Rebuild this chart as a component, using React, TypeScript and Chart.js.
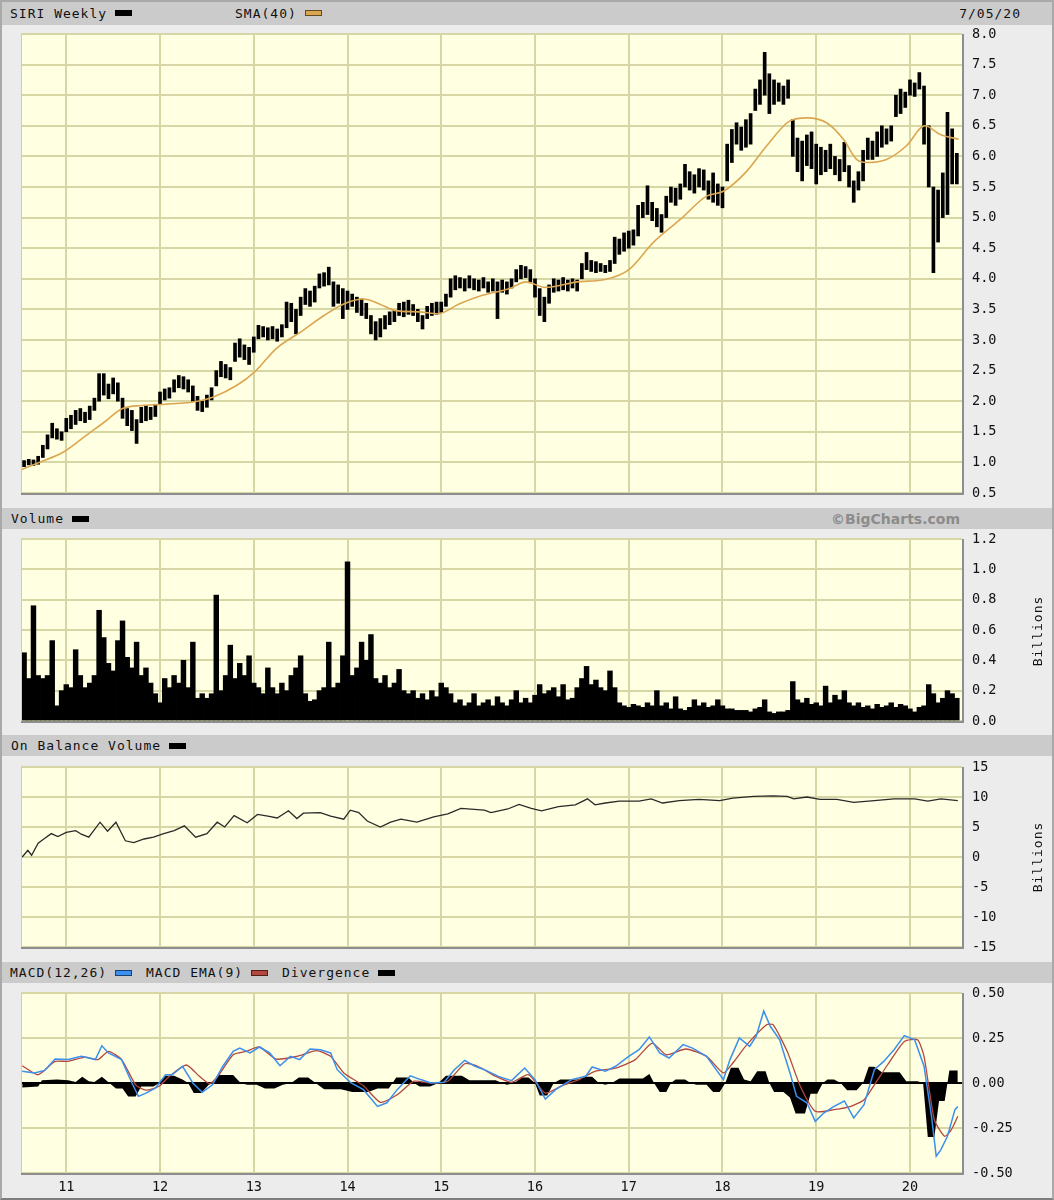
import React, { useEffect, useRef } from "react";
import { Chart, registerables } from "chart.js";
Chart.register(...registerables);

// ---------------- DATA ----------------
const yearTicks = [2011, 2012, 2013, 2014, 2015, 2016, 2017, 2018, 2019, 2020];
const yearLabels = ["11", "12", "13", "14", "15", "16", "17", "18", "19", "20"];

// weekly price bars sampled every 0.05 year starting at priceStart
const priceStart = 2010.55;
const priceStep = 0.05;
const priceLow = [
  0.93, 0.96, 0.95, 0.97, 1.08, 1.22, 1.40, 1.38, 1.36, 1.50,
  1.55, 1.62, 1.68, 1.65, 1.70, 1.85, 2.00, 2.10, 2.04, 2.12,
  2.00, 1.72, 1.60, 1.52, 1.31, 1.65, 1.68, 1.70, 1.75, 1.95,
  2.02, 2.05, 2.15, 2.22, 2.20, 2.15, 2.00, 1.85, 1.83, 1.90,
  2.02, 2.25, 2.40, 2.38, 2.35, 2.65, 2.72, 2.68, 2.60, 2.80,
  3.02, 3.05, 3.00, 3.02, 2.98, 3.05, 3.20, 3.30, 3.10, 3.40,
  3.58, 3.55, 3.62, 3.85, 3.88, 3.90, 3.55, 3.60, 3.35, 3.50,
  3.55, 3.45, 3.40, 3.35, 3.10, 3.00, 3.05, 3.18, 3.25, 3.30,
  3.40, 3.38, 3.42, 3.40, 3.30, 3.18, 3.35, 3.40, 3.42, 3.45,
  3.55, 3.70, 3.82, 3.85, 3.80, 3.85, 3.82, 3.80, 3.85, 3.78,
  3.80, 3.35, 3.78, 3.75, 3.85, 3.95, 4.00, 4.02, 3.95, 3.70,
  3.40, 3.30, 3.60, 3.78, 3.80, 3.82, 3.80, 3.85, 3.80, 4.00,
  4.15, 4.12, 4.10, 4.12, 4.10, 4.12, 4.25, 4.40, 4.45, 4.50,
  4.55, 4.70, 5.00, 5.05, 4.95, 4.85, 4.76, 5.00, 5.25, 5.20,
  5.30, 5.50, 5.45, 5.40, 5.50, 5.45, 5.30, 5.25, 5.20, 5.16,
  5.60, 5.90, 6.20, 6.10, 6.15, 6.20, 6.75, 6.85, 7.00, 6.70,
  6.85, 6.90, 6.85, 6.95, 6.00, 5.75, 5.60, 5.85, 5.80, 5.55,
  5.70, 5.75, 5.80, 5.70, 5.60, 5.75, 5.50, 5.25, 5.45, 5.60,
  5.95, 5.95, 6.00, 6.15, 6.20, 6.25, 6.65, 6.70, 6.80, 7.00,
  6.98, 7.10, 6.20, 5.50, 4.10, 4.60, 5.00, 5.05, 5.55, 5.55,
];
const priceHigh = [
  1.03, 1.05, 1.04, 1.10, 1.28, 1.45, 1.64, 1.55, 1.50, 1.72,
  1.77, 1.85, 1.88, 1.82, 1.92, 2.05, 2.45, 2.45, 2.28, 2.38,
  2.30, 2.05, 1.88, 1.85, 1.70, 1.90, 1.93, 1.90, 1.95, 2.15,
  2.20, 2.22, 2.35, 2.42, 2.40, 2.35, 2.25, 2.08, 2.00, 2.10,
  2.22, 2.50, 2.65, 2.60, 2.55, 2.95, 3.02, 2.92, 2.88, 3.05,
  3.24, 3.22, 3.20, 3.22, 3.18, 3.25, 3.62, 3.60, 3.50, 3.70,
  3.84, 3.80, 3.88, 4.08, 4.10, 4.19, 3.95, 3.90, 3.84, 3.80,
  3.75, 3.70, 3.67, 3.60, 3.40, 3.30, 3.35, 3.40, 3.46, 3.48,
  3.60, 3.62, 3.65, 3.58, 3.50, 3.40, 3.55, 3.60, 3.62, 3.62,
  3.75, 4.00, 4.05, 4.02, 4.00, 4.05, 4.00, 3.98, 4.02, 3.95,
  4.00, 3.95, 3.98, 3.95, 4.00, 4.15, 4.22, 4.20, 4.15, 4.00,
  3.84, 3.70, 3.90, 4.00, 3.98, 4.02, 3.98, 4.00, 3.98, 4.25,
  4.43, 4.30, 4.28, 4.25, 4.22, 4.30, 4.68, 4.65, 4.75, 4.78,
  4.80, 5.20, 5.25, 5.52, 5.25, 5.15, 5.05, 5.35, 5.50, 5.48,
  5.55, 5.87, 5.75, 5.70, 5.80, 5.78, 5.60, 5.73, 5.55, 5.50,
  6.20, 6.44, 6.55, 6.48, 6.60, 6.70, 7.10, 7.25, 7.70, 7.35,
  7.25, 7.20, 7.15, 7.25, 6.60, 6.30, 6.25, 6.35, 6.40, 6.20,
  6.15, 6.10, 6.20, 6.00, 5.95, 6.23, 5.85, 5.60, 5.75, 6.10,
  6.30, 6.25, 6.40, 6.50, 6.45, 6.50, 7.00, 7.10, 7.05, 7.25,
  7.20, 7.37, 7.15, 6.50, 5.50, 5.45, 5.73, 6.72, 6.45, 6.05,
];
// weekly volume (billions), same sampling as the price bars
const volume = [
  0.45, 0.28, 0.76, 0.30, 0.28, 0.30, 0.53, 0.10, 0.20, 0.24,
  0.22, 0.47, 0.30, 0.22, 0.25, 0.30, 0.73, 0.55, 0.38, 0.33,
  0.53, 0.66, 0.42, 0.35, 0.52, 0.30, 0.35, 0.25, 0.18, 0.12,
  0.28, 0.22, 0.30, 0.25, 0.40, 0.22, 0.52, 0.15, 0.18, 0.15,
  0.18, 0.83, 0.20, 0.30, 0.50, 0.28, 0.38, 0.30, 0.43, 0.25,
  0.22, 0.18, 0.35, 0.22, 0.18, 0.25, 0.20, 0.30, 0.35, 0.43,
  0.18, 0.13, 0.14, 0.20, 0.22, 0.52, 0.22, 0.25, 0.43, 1.05,
  0.30, 0.35, 0.52, 0.40, 0.57, 0.28, 0.25, 0.30, 0.22, 0.25,
  0.34, 0.20, 0.18, 0.20, 0.15, 0.18, 0.14, 0.20, 0.16, 0.25,
  0.22, 0.18, 0.12, 0.14, 0.10, 0.12, 0.18, 0.10, 0.12, 0.14,
  0.10, 0.16, 0.12, 0.10, 0.14, 0.20, 0.12, 0.15, 0.12, 0.17,
  0.24, 0.18, 0.20, 0.22, 0.16, 0.24, 0.14, 0.15, 0.22, 0.28,
  0.36, 0.24, 0.27, 0.22, 0.20, 0.33, 0.22, 0.12, 0.10, 0.09,
  0.11, 0.10, 0.09, 0.12, 0.10, 0.20, 0.10, 0.12, 0.08, 0.16,
  0.08, 0.07, 0.09, 0.14, 0.10, 0.12, 0.09, 0.10, 0.14, 0.10,
  0.08, 0.08, 0.07, 0.07, 0.07, 0.06, 0.08, 0.09, 0.14, 0.06,
  0.05, 0.06, 0.06, 0.07, 0.26, 0.14, 0.12, 0.15, 0.11, 0.12,
  0.10, 0.23, 0.12, 0.17, 0.14, 0.20, 0.12, 0.10, 0.12, 0.09,
  0.10, 0.08, 0.11, 0.09, 0.10, 0.12, 0.09, 0.11, 0.10, 0.08,
  0.06, 0.09, 0.10, 0.24, 0.18, 0.12, 0.15, 0.20, 0.18, 0.15,
];

// SMA(40)
const smaYears = [
  2010.52, 2010.71, 2010.97, 2011.22, 2011.39, 2011.6, 2011.81, 2012.06, 2012.4, 2012.57,
  2012.82, 2013.01, 2013.24, 2013.5, 2013.75, 2013.96, 2014.17, 2014.34, 2014.51, 2014.76,
  2014.97, 2015.19, 2015.44, 2015.73, 2015.9, 2016.11, 2016.45, 2016.75, 2017.01, 2017.26,
  2017.55, 2017.83, 2018.01, 2018.26, 2018.47, 2018.72, 2018.9, 2019.11, 2019.29, 2019.43,
  2019.54, 2019.75, 2019.96, 2020.16, 2020.32, 2020.52,
];
const smaValues = [
  0.88, 1.0, 1.17, 1.45, 1.64, 1.88, 1.93, 1.95, 2.0, 2.07,
  2.26, 2.48, 2.86, 3.13, 3.4, 3.59, 3.67, 3.59, 3.48, 3.46,
  3.43, 3.59, 3.73, 3.84, 3.95, 3.86, 3.95, 3.99, 4.16, 4.59,
  4.97, 5.35, 5.43, 5.76, 6.17, 6.58, 6.63, 6.55, 6.28, 5.95,
  5.9, 5.95, 6.17, 6.5, 6.36, 6.28,
];

// On Balance Volume (billions)
const obvYears = [
  2010.53, 2010.59, 2010.63, 2010.70, 2010.76, 2010.84, 2010.91, 2011.0, 2011.1, 2011.16,
  2011.24, 2011.36, 2011.44, 2011.53, 2011.63, 2011.72, 2011.83, 2011.93, 2012.04, 2012.15,
  2012.26, 2012.38, 2012.5, 2012.61, 2012.69, 2012.79, 2012.93, 2013.04, 2013.15, 2013.25,
  2013.37, 2013.46, 2013.53, 2013.71, 2013.82, 2013.96, 2014.03, 2014.12, 2014.21, 2014.35,
  2014.46, 2014.57, 2014.74, 2014.92, 2015.07, 2015.21, 2015.46, 2015.53, 2015.71, 2015.83,
  2015.96, 2016.07, 2016.25, 2016.43, 2016.56, 2016.64, 2016.75, 2016.9, 2017.11, 2017.24,
  2017.36, 2017.54, 2017.75, 2017.97, 2018.11, 2018.33, 2018.54, 2018.69, 2018.76, 2018.9,
  2019.04, 2019.22, 2019.4, 2019.62, 2019.83, 2020.05, 2020.19, 2020.33, 2020.51,
];
const obvValues = [
  0, 1.1, 0.3, 2.3, 3.0, 3.9, 3.4, 4.1, 4.4, 3.8,
  3.3, 5.8, 4.3, 5.8, 2.7, 2.4, 3.0, 3.3, 3.9, 4.4,
  5.2, 3.3, 3.9, 5.8, 5.0, 6.9, 5.7, 7.1, 6.8, 6.5,
  7.7, 6.4, 7.3, 7.4, 6.8, 6.3, 7.8, 7.4, 6.0, 5.0,
  5.8, 6.3, 5.8, 6.7, 7.2, 8.1, 7.8, 7.4, 8.0, 8.75,
  8.1, 7.7, 8.4, 8.7, 9.7, 8.7, 9.0, 9.3, 9.3, 9.7,
  9.0, 9.4, 9.6, 9.4, 9.8, 10.1, 10.2, 10.1, 9.7, 10.0,
  9.6, 9.6, 9.1, 9.4, 9.7, 9.7, 9.3, 9.7, 9.4,
];

// MACD(12,26)
const macdYears = [
  2010.53, 2010.66, 2010.77, 2010.88, 2011.02, 2011.16, 2011.31, 2011.38, 2011.45, 2011.59,
  2011.70, 2011.77, 2011.85, 2011.95, 2012.06, 2012.13, 2012.24, 2012.35, 2012.45, 2012.56,
  2012.67, 2012.78, 2012.85, 2012.96, 2013.06, 2013.17, 2013.28, 2013.39, 2013.49, 2013.60,
  2013.71, 2013.82, 2013.89, 2014.03, 2014.17, 2014.32, 2014.42, 2014.53, 2014.67, 2014.78,
  2014.89, 2015.03, 2015.14, 2015.25, 2015.36, 2015.46, 2015.61, 2015.75, 2015.89, 2016.00,
  2016.11, 2016.22, 2016.39, 2016.54, 2016.61, 2016.75, 2016.86, 2017.00, 2017.11, 2017.22,
  2017.33, 2017.43, 2017.58, 2017.68, 2017.83, 2018.01, 2018.08, 2018.18, 2018.29, 2018.36,
  2018.44, 2018.51, 2018.61, 2018.72, 2018.79, 2018.90, 2018.99, 2019.08, 2019.19, 2019.30,
  2019.40, 2019.51, 2019.62, 2019.72, 2019.83, 2019.94, 2020.05, 2020.15, 2020.23, 2020.28,
  2020.33, 2020.40, 2020.48, 2020.51,
];
const macdValues = [
  0.065, 0.055, 0.07, 0.133, 0.13, 0.148, 0.13, 0.207, 0.167, 0.13,
  0.0, -0.074, -0.056, -0.028, 0.046, 0.046, 0.093, 0.0, -0.052, -0.01,
  0.093, 0.176, 0.194, 0.167, 0.2, 0.167, 0.096, 0.148, 0.13, 0.189,
  0.185, 0.167, 0.074, 0.004, -0.037, -0.13, -0.11, -0.037, 0.04, 0.019,
  0.0, 0.004, 0.074, 0.126, 0.093, 0.074, 0.037, 0.013, 0.083, 0.019,
  -0.089, -0.037, 0.019, 0.037, 0.089, 0.065, 0.093, 0.148, 0.185, 0.256,
  0.167, 0.139, 0.213, 0.194, 0.148, 0.019, 0.13, 0.25, 0.204, 0.26,
  0.4, 0.315, 0.24, 0.056, -0.074, -0.11, -0.213, -0.167, -0.13, -0.1,
  -0.194, -0.12, 0.074, 0.12, 0.185, 0.263, 0.24, 0.093, -0.185, -0.407,
  -0.37, -0.296, -0.148, -0.13,
];

// MACD EMA(9)
const emaYears = [
  2010.53, 2010.70, 2010.88, 2011.02, 2011.20, 2011.34, 2011.45, 2011.59, 2011.74, 2011.85,
  2011.99, 2012.10, 2012.28, 2012.42, 2012.53, 2012.63, 2012.78, 2012.92, 2013.06, 2013.24,
  2013.46, 2013.67, 2013.82, 2013.96, 2014.17, 2014.35, 2014.53, 2014.71, 2014.89, 2015.07,
  2015.25, 2015.39, 2015.57, 2015.75, 2015.93, 2016.11, 2016.29, 2016.47, 2016.64, 2016.86,
  2017.07, 2017.25, 2017.40, 2017.61, 2017.83, 2018.01, 2018.11, 2018.26, 2018.47, 2018.54,
  2018.69, 2018.83, 2018.99, 2019.19, 2019.37, 2019.51, 2019.62, 2019.76, 2019.94, 2020.08,
  2020.15, 2020.26, 2020.37, 2020.44, 2020.51,
];
const emaValues = [
  0.096, 0.046, 0.12, 0.12, 0.144, 0.13, 0.176, 0.13, -0.01, -0.04,
  -0.018, 0.037, 0.1, 0.037, -0.004, 0.046, 0.157, 0.176, 0.2, 0.133,
  0.148, 0.18, 0.148, 0.056, -0.015, -0.107, -0.065, 0.01, 0.0, 0.01,
  0.107, 0.093, 0.04, 0.004, 0.046, -0.056, -0.015, 0.019, 0.065, 0.083,
  0.13, 0.222, 0.157, 0.189, 0.148, 0.056, 0.111, 0.213, 0.324, 0.324,
  0.176, -0.018, -0.157, -0.148, -0.13, -0.093, -0.01, 0.1, 0.231, 0.24,
  0.148, -0.204, -0.296, -0.26, -0.185,
];

// Divergence histogram
const divYears = [
  2010.53, 2010.7, 2010.74, 2010.9, 2011.02, 2011.1, 2011.17, 2011.24, 2011.3, 2011.38,
  2011.46, 2011.53, 2011.6, 2011.66, 2011.74, 2011.8, 2011.93, 2011.99, 2012.05, 2012.15,
  2012.24, 2012.3, 2012.36, 2012.44, 2012.52, 2012.57, 2012.62, 2012.78, 2012.86, 2012.93,
  2013.03, 2013.12, 2013.22, 2013.31, 2013.4, 2013.48, 2013.58, 2013.66, 2013.75, 2013.93,
  2014.05, 2014.22, 2014.32, 2014.44, 2014.48, 2014.52, 2014.65, 2014.71, 2014.77, 2014.88,
  2014.97, 2015.05, 2015.22, 2015.3, 2015.58, 2015.65, 2015.7, 2015.78, 2015.86, 2015.93,
  2016.0, 2016.05, 2016.13, 2016.2, 2016.27, 2016.45, 2016.54, 2016.61, 2016.68, 2016.75,
  2016.82, 2016.9, 2017.15, 2017.22, 2017.27, 2017.33, 2017.4, 2017.45, 2017.5, 2017.6,
  2017.66, 2017.72, 2017.83, 2017.9, 2017.97, 2018.03, 2018.09, 2018.17, 2018.23, 2018.3,
  2018.37, 2018.46, 2018.5, 2018.55, 2018.65, 2018.72, 2018.78, 2018.88, 2018.94, 2019.01,
  2019.07, 2019.12, 2019.19, 2019.26, 2019.33, 2019.43, 2019.5, 2019.56, 2019.62, 2019.7,
  2019.89, 2019.96, 2020.08, 2020.14, 2020.19, 2020.26, 2020.31, 2020.37, 2020.4, 2020.42,
  2020.51,
];
const divValues = [
  -0.025, -0.02, 0.015, 0.02, 0.015, 0.005, 0.035, 0.01, 0.005, 0.035,
  0.0, -0.03, -0.03, -0.075, -0.075, -0.02, -0.02, 0.0, 0.04, 0.04,
  0.02, 0.0, -0.055, -0.055, -0.01, 0.0, 0.045, 0.045, 0.0, -0.01,
  -0.01, -0.03, -0.03, -0.01, 0.0, 0.03, 0.03, 0.0, -0.035, -0.035,
  -0.05, -0.05, -0.03, -0.03, 0.0, 0.03, 0.03, 0.0, -0.02, -0.02,
  0.0, 0.04, 0.04, 0.015, 0.015, 0.0, -0.01, 0.0, 0.03, 0.03,
  0.0, -0.07, -0.07, 0.0, 0.02, 0.02, 0.035, 0.035, 0.0, -0.01,
  0.0, 0.025, 0.025, 0.05, 0.0, -0.05, -0.05, 0.0, 0.02, 0.02,
  0.0, -0.01, -0.01, -0.05, -0.05, 0.0, 0.085, 0.085, 0.02, 0.01,
  0.065, 0.065, 0.0, -0.05, -0.05, -0.08, -0.17, -0.17, -0.06, -0.06,
  0.0, 0.02, 0.02, 0.0, -0.04, -0.04, 0.0, 0.09, 0.09, 0.06,
  0.06, 0.01, 0.01, 0.0, -0.3, -0.3, -0.1, -0.1, 0.0, 0.07,
  0.07,
];

// ---------------- STYLE ----------------
const MONO = "'DejaVu Sans Mono', monospace";
const GRID = "#d7d7a6";
const PLOT_BG = "#ffffe1";
const PAGE_BG = "#ececec";
const HEAD_BG = "#cbcbcb";
const SMA_COLOR = "#dba651";
const MACD_COLOR = "#3a8fef";
const EMA_COLOR = "#b4473e";
const X_MIN = 2010.517;
const X_MAX = 2020.555;
const PLOT_LEFT = 21;
const AXIS_W = 1054 - 962;
const PAD = 20;

const framePlugin = {
  id: "frame",
  beforeDraw(chart: any) {
    const { ctx, chartArea: a } = chart;
    ctx.save();
    ctx.fillStyle = PLOT_BG;
    ctx.fillRect(a.left, a.top, a.right - a.left, a.bottom - a.top);
    ctx.restore();
  },
  afterDraw(chart: any) {
    const { ctx, chartArea: a } = chart;
    ctx.save();
    ctx.strokeStyle = "#d0d0a8";
    ctx.lineWidth = 1;
    ctx.beginPath();
    ctx.moveTo(a.left + 0.5, a.bottom);
    ctx.lineTo(a.left + 0.5, a.top);
    ctx.stroke();
    ctx.strokeStyle = "#8e8e8e";
    ctx.lineWidth = 2;
    ctx.beginPath();
    ctx.moveTo(a.left, a.bottom + 1);
    ctx.lineTo(a.right + 1, a.bottom + 1);
    ctx.lineTo(a.right + 1, a.top);
    ctx.stroke();
    ctx.restore();
  },
};

function makeOptions(o: {
  yMin: number;
  yMax: number;
  yStep: number;
  digits: number;
  bottomSpace: number;
  showX: boolean;
  zeroLine?: boolean;
}) {
  return {
    animation: false,
    responsive: false,
    maintainAspectRatio: false,
    devicePixelRatio: 1,
    events: [],
    layout: { padding: { left: PLOT_LEFT, top: PAD, right: 0, bottom: 0 } },
    plugins: { legend: { display: false }, tooltip: { enabled: false } },
    scales: {
      x: {
        type: "linear",
        min: X_MIN,
        max: X_MAX,
        bounds: "data",
        offset: false,
        afterBuildTicks: (s: any) => {
          s.ticks = yearTicks.map((v) => ({ value: v }));
        },
        afterFit: (s: any) => {
          s.height = o.bottomSpace;
        },
        grid: { color: GRID, lineWidth: 2, drawTicks: false, offset: false },
        border: { display: false },
        ticks: {
          display: o.showX,
          autoSkip: false,
          maxRotation: 0,
          padding: 6,
          color: "#111",
          font: { family: MONO, size: 13.5 },
          callback: (_v: any, i: number) => yearLabels[i],
        },
      },
      y: {
        position: "right",
        min: o.yMin,
        max: o.yMax,
        afterFit: (s: any) => {
          s.width = AXIS_W;
        },
        grid: {
          lineWidth: 2,
          drawTicks: false,
          color: (ctx: any) =>
            o.zeroLine && ctx.tick && Math.abs(ctx.tick.value) < 1e-9 ? "#000" : GRID,
        },
        border: { display: false },
        ticks: {
          stepSize: o.yStep,
          padding: 10,
          color: "#111",
          font: { family: MONO, size: 13.5 },
          callback: (v: any) => Number(v).toFixed(o.digits),
        },
      },
    },
  };
}

const priceConfig = () => ({
  type: "bar",
  data: {
    datasets: [
      {
        type: "line",
        data: smaYears.map((x, i) => ({ x, y: smaValues[i] })),
        borderColor: SMA_COLOR,
        borderWidth: 1.6,
        pointRadius: 0,
        cubicInterpolationMode: "monotone",
        order: 0,
      },
      {
        type: "bar",
        data: priceLow.map((lo, i) => ({ x: priceStart + i * priceStep, y: [lo, priceHigh[i]] })),
        backgroundColor: "#000",
        barThickness: 3,
        order: 1,
      },
    ],
  },
  options: makeOptions({ yMin: 0.5, yMax: 8, yStep: 0.5, digits: 1, bottomSpace: PAD, showX: false }),
  plugins: [framePlugin],
});

const volumeConfig = () => ({
  type: "bar",
  data: {
    datasets: [
      {
        data: volume.map((v, i) => ({ x: priceStart + i * priceStep, y: v })),
        backgroundColor: "#000",
        barThickness: 4.8,
      },
    ],
  },
  options: makeOptions({ yMin: 0, yMax: 1.2, yStep: 0.2, digits: 1, bottomSpace: PAD, showX: false }),
  plugins: [framePlugin],
});

const obvConfig = () => ({
  type: "line",
  data: {
    datasets: [
      {
        data: obvYears.map((x, i) => ({ x, y: obvValues[i] })),
        borderColor: "#2a2a2a",
        borderWidth: 1.3,
        pointRadius: 0,
        tension: 0,
      },
    ],
  },
  options: makeOptions({ yMin: -15, yMax: 15, yStep: 5, digits: 0, bottomSpace: PAD, showX: false }),
  plugins: [framePlugin],
});

const macdConfig = () => ({
  type: "line",
  data: {
    datasets: [
      {
        data: macdYears.map((x, i) => ({ x, y: macdValues[i] })),
        borderColor: MACD_COLOR,
        borderWidth: 1.5,
        pointRadius: 0,
        tension: 0,
        order: 0,
      },
      {
        data: emaYears.map((x, i) => ({ x, y: emaValues[i] })),
        borderColor: EMA_COLOR,
        borderWidth: 1.3,
        pointRadius: 0,
        tension: 0.2,
        order: 1,
      },
      {
        data: divYears.map((x, i) => ({ x, y: divValues[i] })),
        borderColor: "#000",
        borderWidth: 0,
        backgroundColor: "#000",
        fill: "origin",
        pointRadius: 0,
        tension: 0,
        order: 2,
      },
    ],
  },
  options: makeOptions({
    yMin: -0.5,
    yMax: 0.5,
    yStep: 0.25,
    digits: 2,
    bottomSpace: 28,
    showX: true,
    zeroLine: true,
  }),
  plugins: [framePlugin],
});

function ChartCanvas({ top, height, config }: { top: number; height: number; config: () => any }) {
  const ref = useRef<HTMLCanvasElement | null>(null);
  useEffect(() => {
    if (!ref.current) return;
    const chart = new Chart(ref.current, config());
    return () => chart.destroy();
  }, []);
  return (
    <canvas
      ref={ref}
      width={1054}
      height={height}
      style={{ position: "absolute", left: 0, top, width: 1054, height, display: "block" }}
    />
  );
}

const headText: React.CSSProperties = {
  position: "absolute",
  top: 0,
  height: "100%",
  display: "flex",
  alignItems: "center",
  font: `13px ${MONO}`,
  letterSpacing: "1px",
  color: "#111",
  whiteSpace: "pre",
};

function Item({ x, text, color }: { x: number; text: string; color?: string }) {
  return (
    <span style={{ ...headText, left: x }}>
      {text}
      {color ? (
        <span
          style={{
            display: "inline-block",
            width: 15,
            height: 4,
            marginLeft: 8,
            background: color,
            border: "1px solid rgba(0,0,0,0.55)",
          }}
        />
      ) : null}
    </span>
  );
}

function Header({ top, height, children }: { top: number; height: number; children: React.ReactNode }) {
  return (
    <div style={{ position: "absolute", left: 2, top, width: 1050, height, background: HEAD_BG }}>
      {children}
    </div>
  );
}

function Billions({ cy }: { cy: number }) {
  return (
    <div
      style={{
        position: "absolute",
        left: 1038 - 50,
        top: cy - 8,
        width: 100,
        height: 16,
        lineHeight: "16px",
        textAlign: "center",
        transform: "rotate(-90deg)",
        font: `13px ${MONO}`,
        letterSpacing: "1px",
        color: "#111",
      }}
    >
      Billions
    </div>
  );
}

export default function App() {
  return (
    <div
      style={{
        position: "absolute",
        left: 0,
        top: 0,
        width: 1054,
        height: 1200,
        background: PAGE_BG,
        overflow: "hidden",
      }}
    >
      <Header top={1} height={24}>
        <Item x={8} text="SIRI Weekly" color="#000" />
        <Item x={233} text="SMA(40)" color={SMA_COLOR} />
        <span style={{ ...headText, left: undefined, right: 31 }}>7/05/20</span>
      </Header>
      <Header top={508} height={21}>
        <Item x={9} text="Volume" color="#000" />
        <span
          style={{
            position: "absolute",
            right: 92,
            top: 0,
            height: "100%",
            display: "flex",
            alignItems: "center",
            font: `bold 14px 'DejaVu Sans', sans-serif`,
            color: "#8c8c8c",
          }}
        >
          ©BigCharts.com
        </span>
      </Header>
      <Header top={735} height={21}>
        <Item x={9} text="On Balance Volume" color="#000" />
      </Header>
      <Header top={962} height={21}>
        <Item x={8} text="MACD(12,26)" color={MACD_COLOR} />
        <Item x={144} text="MACD EMA(9)" color={EMA_COLOR} />
        <Item x={280} text="Divergence" color="#000" />
      </Header>

      <ChartCanvas top={34 - PAD} height={493 - 34 + 2 * PAD} config={priceConfig} />
      <ChartCanvas top={539 - PAD} height={721 - 539 + 2 * PAD} config={volumeConfig} />
      <ChartCanvas top={767 - PAD} height={947 - 767 + 2 * PAD} config={obvConfig} />
      <ChartCanvas top={993 - PAD} height={1173 - 993 + PAD + 28} config={macdConfig} />

      <Billions cy={631} />
      <Billions cy={857} />

      <div
        style={{
          position: "absolute",
          left: 0,
          top: 0,
          width: 1054,
          height: 1200,
          boxSizing: "border-box",
          border: "2px solid #a9a9a9",
          borderBottomColor: "#7d7d7d",
          pointerEvents: "none",
        }}
      />
    </div>
  );
}
